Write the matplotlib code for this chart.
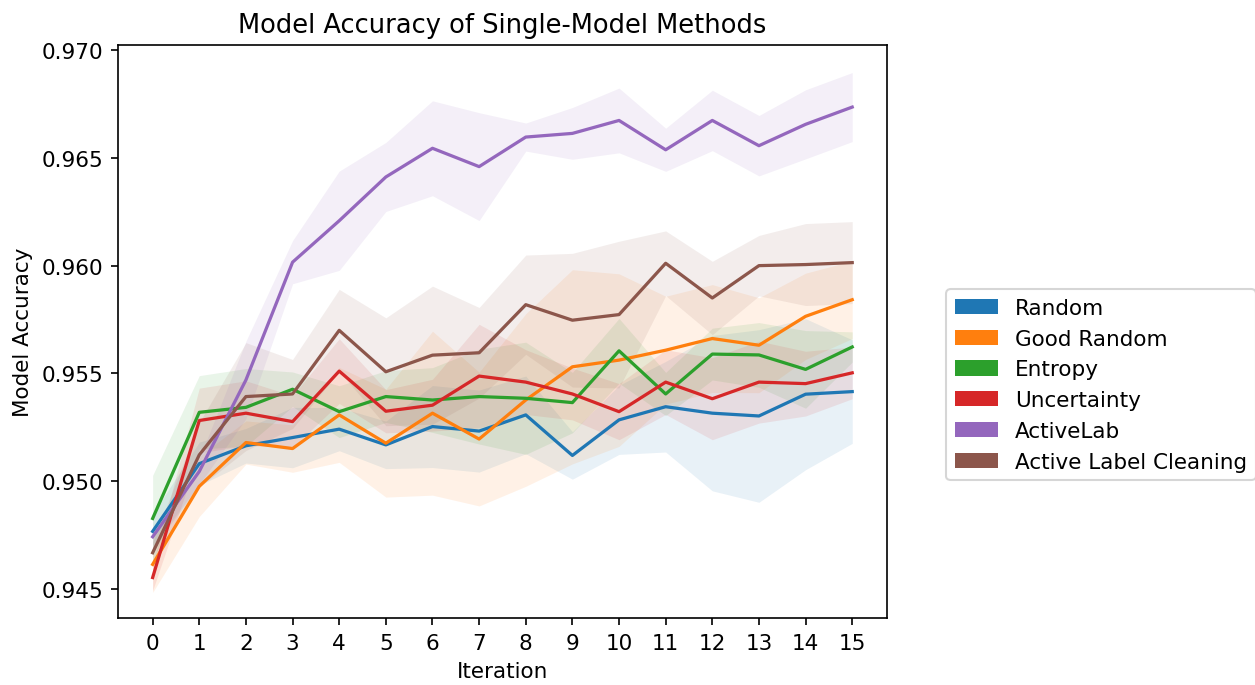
import numpy as np
import matplotlib
matplotlib.use('Agg')
import matplotlib.pyplot as plt
from matplotlib.patches import Patch

# Datos (media y desviacion por iteracion)
iterations = list(range(16))
labels = ['Random', 'Good Random', 'Entropy', 'Uncertainty', 'ActiveLab', 'Active Label Cleaning']

random_mean = [0.94768, 0.95082, 0.95165, 0.95203, 0.95242, 0.95169, 0.95254, 0.95233,
               0.95308, 0.95120, 0.95285, 0.95346, 0.95316, 0.95303, 0.95404, 0.95416]
random_std = [0.0008, 0.0010, 0.0008, 0.0014, 0.0010, 0.0011, 0.0019, 0.0019,
              0.0018, 0.0011, 0.0016, 0.0021, 0.0036, 0.0040, 0.0035, 0.0024]

good_mean = [0.94615, 0.94977, 0.95180, 0.95152, 0.95308, 0.95177, 0.95316, 0.95196,
             0.95377, 0.95531, 0.95562, 0.95608, 0.95662, 0.95631, 0.95765, 0.95842]
good_std = [0.0013, 0.0014, 0.0010, 0.0011, 0.0022, 0.0025, 0.0038, 0.0031,
            0.0040, 0.0045, 0.0040, 0.0025, 0.0025, 0.0022, 0.0020, 0.0018]

entropy_mean = [0.94828, 0.95320, 0.95343, 0.95427, 0.95323, 0.95393, 0.95377, 0.95393,
                0.95385, 0.95365, 0.95605, 0.95405, 0.95590, 0.95586, 0.95519, 0.95623]
entropy_std = [0.0020, 0.0017, 0.0018, 0.0008, 0.0012, 0.0012, 0.0015, 0.0022,
               0.0026, 0.0014, 0.0015, 0.0010, 0.0012, 0.0015, 0.0018, 0.0007]

uncert_mean = [0.94554, 0.95282, 0.95316, 0.95277, 0.95511, 0.95325, 0.95353, 0.95488,
               0.95460, 0.95405, 0.95323, 0.95460, 0.95383, 0.95460, 0.95453, 0.95503]
uncert_std = [0.0006, 0.0015, 0.0015, 0.0012, 0.0015, 0.0010, 0.0012, 0.0024,
              0.0015, 0.0012, 0.0013, 0.0015, 0.0019, 0.0019, 0.0015, 0.0012]

activelab_mean = [0.94743, 0.95046, 0.95470, 0.96016, 0.96208, 0.96411, 0.96544, 0.96459,
                  0.96596, 0.96613, 0.96673, 0.96537, 0.96673, 0.96556, 0.96655, 0.96735]
activelab_std = [0.0004, 0.0006, 0.0018, 0.0010, 0.0023, 0.0016, 0.0022, 0.0025,
                 0.00065, 0.0012, 0.0015, 0.0010, 0.0014, 0.0014, 0.0016, 0.0016]

alc_mean = [0.94669, 0.95123, 0.95393, 0.95405, 0.95700, 0.95508, 0.95585, 0.95596,
            0.95819, 0.95747, 0.95773, 0.96011, 0.95850, 0.96000, 0.96005, 0.96014]
alc_std = [0.0005, 0.0015, 0.0025, 0.0016, 0.0019, 0.0025, 0.0032, 0.0021,
           0.0023, 0.0031, 0.0034, 0.0015, 0.0017, 0.0014, 0.0019, 0.0019]

means = [random_mean, good_mean, entropy_mean, uncert_mean, activelab_mean, alc_mean]
stds = [random_std, good_std, entropy_std, uncert_std, activelab_std, alc_std]
colors = ['tab:blue', 'tab:orange', 'tab:green', 'tab:red', 'tab:purple', 'tab:brown']

# %%
plt.rcParams['font.size'] = 10.3
plt.rcParams['lines.linewidth'] = 1.55

fig = plt.figure(figsize=(8.373, 4.573), dpi=150)
ax = fig.add_axes([0.0937, 0.0972, 0.6127, 0.8362])

for m, s, c in zip(means, stds, colors):
    m = np.array(m)
    s = np.array(s)
    ax.plot(iterations, m, color=c)
    ax.fill_between(iterations, m - s, m + s, color=c, alpha=0.1, linewidth=0)

ax.set_xticks(iterations)
ax.set_ylim(0.94365, 0.97024)
ax.set_title('Model Accuracy of Single-Model Methods')
ax.set_xlabel('Iteration')
ax.set_ylabel('Model Accuracy')

handles = [Patch(facecolor=c, label=l) for c, l in zip(colors, labels)]
ax.legend(handles=handles, loc='center left', bbox_to_anchor=(1.063, 0.407))

fig.savefig('out.png', dpi=150)
